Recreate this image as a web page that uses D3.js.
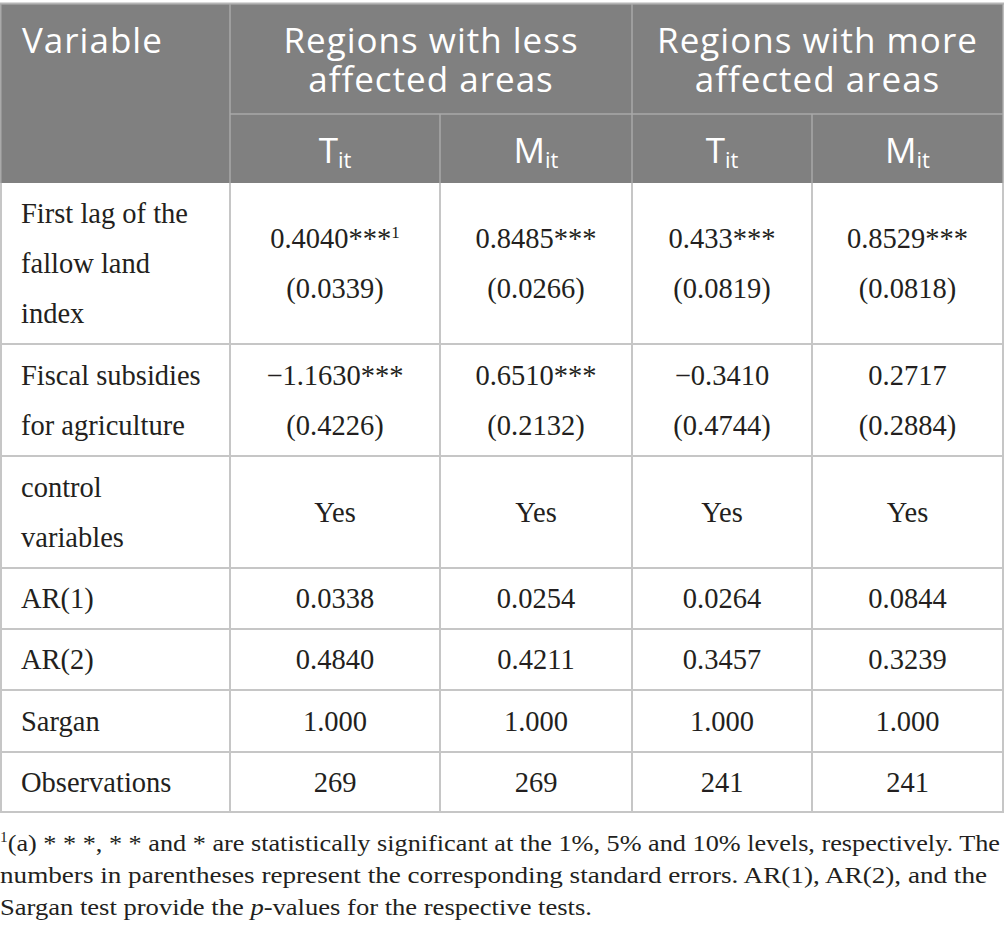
<!DOCTYPE html>
<html>
<head>
<meta charset="utf-8">
<script src="https://cdn.jsdelivr.net/npm/d3@7"></script>
<style>
  html, body { margin: 0; padding: 0; background: #fff; }
  svg { display: block; }
</style>
</head>
<body>
<div id="chart"></div>
<script>
// ---------- data ----------
const stubHeader = "Variable";
const groupHeaders = [["Regions with less", "affected areas"], ["Regions with more", "affected areas"]];
const subHeaders = [["T", "it"], ["M", "it"], ["T", "it"], ["M", "it"]];
const rowLabels = [
  ["First lag of the", "fallow land", "index"],
  ["Fiscal subsidies", "for agriculture"],
  ["control", "variables"],
  ["AR(1)"],
  ["AR(2)"],
  ["Sargan"],
  ["Observations"]
];
const lessT = [["0.4040***", "(0.0339)"], ["\u22121.1630***", "(0.4226)"], ["Yes"], ["0.0338"], ["0.4840"], ["1.000"], ["269"]];
const lessM = [["0.8485***", "(0.0266)"], ["0.6510***", "(0.2132)"], ["Yes"], ["0.0254"], ["0.4211"], ["1.000"], ["269"]];
const moreT = [["0.433***", "(0.0819)"], ["\u22120.3410", "(0.4744)"], ["Yes"], ["0.0264"], ["0.3457"], ["1.000"], ["241"]];
const moreM = [["0.8529***", "(0.0818)"], ["0.2717", "(0.2884)"], ["Yes"], ["0.0844"], ["0.3239"], ["1.000"], ["241"]];
const footnoteLines = [
  "(a) * * *, * * and * are statistically significant at the 1%, 5% and 10% levels, respectively. The",
  "numbers in parentheses represent the corresponding standard errors. AR(1), AR(2), and the",
  "Sargan test provide the |p|-values for the respective tests."
];

// ---------- layout ----------
const W = 1005, H = 940;
const colEdges = [0, 230, 440, 632, 812, 1003];
const headTop = 4, head1Bottom = 114, headBottom = 183;
const rowHeights = [161, 112, 112, 61, 61, 62, 60];
const lineH = 50;
const valueCols = [lessT, lessM, moreT, moreM];

const svg = d3.select("#chart").append("svg").attr("width", W).attr("height", H);

const rowTops = [];
let acc = headBottom;
rowHeights.forEach(h => { rowTops.push(acc); acc += h; });
const tableBottom = acc;

const y = d3.scaleOrdinal().domain(d3.range(rowLabels.length)).range(rowTops);

// header background
svg.append("rect").attr("x", colEdges[0]).attr("y", headTop)
  .attr("width", colEdges[5] - colEdges[0]).attr("height", headBottom - headTop)
  .attr("fill", "#808080");

const headLine = "#a9a9a9";
const gridLine = "#c6c6c6";
// header top border
svg.append("line").attr("x1", 0).attr("x2", 1004).attr("y1", headTop - 0.5).attr("y2", headTop - 0.5)
  .attr("stroke", "#b5b5b5").attr("stroke-width", 2);
// header internal lines
svg.append("line").attr("x1", colEdges[1]).attr("x2", colEdges[5]).attr("y1", head1Bottom).attr("y2", head1Bottom)
  .attr("stroke", headLine).attr("stroke-width", 1.5);
[1, 3].forEach(i => svg.append("line").attr("x1", colEdges[i]).attr("x2", colEdges[i])
  .attr("y1", headTop).attr("y2", headBottom).attr("stroke", headLine).attr("stroke-width", 1.5));
[2, 4].forEach(i => svg.append("line").attr("x1", colEdges[i]).attr("x2", colEdges[i])
  .attr("y1", head1Bottom).attr("y2", headBottom).attr("stroke", headLine).attr("stroke-width", 1.5));
[0, 5].forEach(i => svg.append("line").attr("x1", colEdges[i] + (i === 0 ? 0.75 : 0)).attr("x2", colEdges[i] + (i === 0 ? 0.75 : 0))
  .attr("y1", headTop).attr("y2", headBottom).attr("stroke", headLine).attr("stroke-width", 1.5));

// body grid
svg.selectAll("line.hrow").data(rowTops.slice(1).concat([tableBottom])).join("line")
  .attr("class", "hrow").attr("x1", 0).attr("x2", colEdges[5] + 1)
  .attr("y1", d => d).attr("y2", d => d).attr("stroke", gridLine).attr("stroke-width", 2);
svg.selectAll("line.vcol").data(colEdges).join("line")
  .attr("class", "vcol").attr("x1", (d, i) => i === 0 ? 1 : d).attr("x2", (d, i) => i === 0 ? 1 : d)
  .attr("y1", headBottom).attr("y2", tableBottom).attr("stroke", gridLine).attr("stroke-width", 2);

// header text
const hFont = "'Open Sans', 'Noto Sans', sans-serif";
const hSize = 35;
const hSpacing = 1;
svg.append("text").attr("x", 22).attr("y", 53).attr("fill", "#fff")
  .attr("font-family", hFont).attr("font-size", hSize).attr("letter-spacing", hSpacing).text(stubHeader);
groupHeaders.forEach((lines, g) => {
  const cx = (colEdges[1 + 2 * g] + colEdges[3 + 2 * g]) / 2;
  const t = svg.append("text").attr("y", 52.5)
    .attr("text-anchor", "middle").attr("fill", "#fff").attr("letter-spacing", hSpacing)
    .attr("font-family", hFont).attr("font-size", hSize);
  lines.forEach((l, k) => t.append("tspan").attr("x", cx).attr("dy", k === 0 ? 0 : 39.5).text(l));
});
subHeaders.forEach((s, i) => {
  const cx = (colEdges[i + 1] + colEdges[i + 2]) / 2;
  const t = svg.append("text").attr("x", cx).attr("y", 163).attr("text-anchor", "middle")
    .attr("fill", "#fff").attr("font-family", hFont).attr("font-size", hSize);
  t.append("tspan").text(s[0]);
  t.append("tspan").attr("font-size", 22).attr("dy", 5).text(s[1]);
});

// body text
const bFont = "'Liberation Serif', 'DejaVu Serif', serif";
const bSize = 28.5;
const textColor = "#231f20";
function lineBaselines(r, n) {
  const mid = y(r) + rowHeights[r] / 2;
  return d3.range(n).map(k => mid + (k - (n - 1) / 2) * lineH + 9.5);
}
rowLabels.forEach((lines, r) => {
  const bl = lineBaselines(r, lines.length);
  lines.forEach((l, k) => svg.append("text").attr("x", 21).attr("y", bl[k])
    .attr("fill", textColor).attr("font-family", bFont).attr("font-size", bSize).text(l));
});
valueCols.forEach((col, c) => {
  const cx = (colEdges[c + 1] + colEdges[c + 2]) / 2;
  col.forEach((lines, r) => {
    const bl = lineBaselines(r, lines.length);
    lines.forEach((l, k) => {
      const t = svg.append("text").attr("x", cx).attr("y", bl[k]).attr("text-anchor", "middle")
        .attr("fill", textColor).attr("font-family", bFont).attr("font-size", bSize);
      t.append("tspan").text(l);
      if (c === 0 && r === 0 && k === 0) {
        t.append("tspan").attr("font-size", 17).attr("dy", -10).text("1");
      }
    });
  });
});

// footnote
const fSize = 24;
const fBaselines = [851, 883, 915];
const fWidths = [1000, 987, 592];
footnoteLines.forEach((l, k) => {
  const t = svg.append("text").attr("x", 0).attr("y", fBaselines[k]).attr("fill", textColor)
    .attr("font-family", bFont).attr("font-size", fSize)
    .attr("textLength", fWidths[k]).attr("lengthAdjust", "spacingAndGlyphs");
  if (k === 0) t.append("tspan").attr("font-size", 14).attr("dy", -9).text("1");
  const parts = l.split("|");
  parts.forEach((p, j) => {
    const ts = t.append("tspan").text(p);
    if (k === 0 && j === 0) ts.attr("dy", 9);
    if (j % 2 === 1) ts.attr("font-style", "italic");
  });
});
</script>
</body>
</html>
